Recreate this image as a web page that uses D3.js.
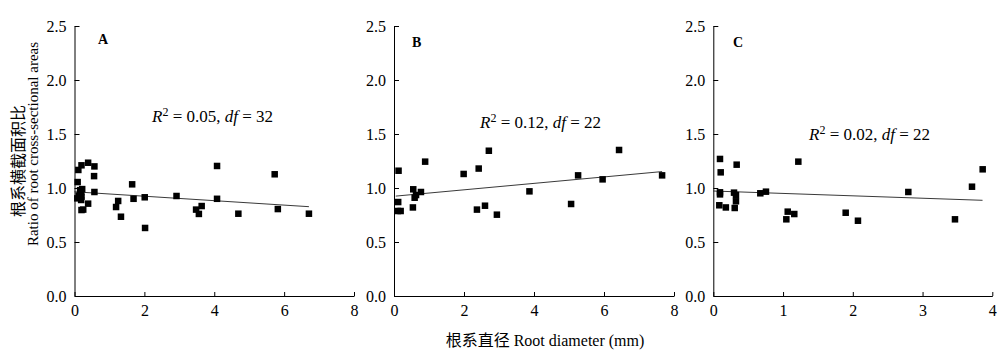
<!DOCTYPE html>
<html>
<head>
<meta charset="utf-8">
<script src="https://cdn.jsdelivr.net/npm/d3@7"></script>
<style>
  body { margin: 0; background: #fff; }
  text { font-family: "Liberation Serif", "Noto Sans CJK SC", serif; fill: #000; }
</style>
</head>
<body>
<div id="chart"></div>
<script>
// data: [root diameter (mm), ratio]
var pointsA = [
  [0.11,1.167],[0.20,1.21],[0.39,1.234],[0.57,1.20],[0.56,1.11],[0.09,1.055],
  [0.16,0.98],[0.19,0.96],[0.57,0.963],[0.08,0.904],[0.20,0.92],[0.19,0.889],
  [0.12,0.93],[0.22,0.99],
  [0.39,0.855],[0.20,0.796],[0.25,0.80],[1.65,1.034],[1.69,0.90],[1.25,0.88],
  [1.19,0.824],[1.33,0.734],[2.01,0.914],[2.02,0.63],[2.92,0.926],[4.08,1.204],
  [4.08,0.90],[3.48,0.80],[3.56,0.76],[3.64,0.833],[4.69,0.762],[5.73,1.127],
  [5.82,0.805],[6.71,0.762]
];
var pointsB = [
  [0.13,1.16],[0.12,0.87],[0.11,0.787],[0.19,0.787],[0.55,0.988],[0.63,0.935],
  [0.59,0.91],[0.77,0.963],[0.54,0.82],[0.89,1.244],[1.99,1.13],[2.42,1.18],
  [2.71,1.345],[2.37,0.80],[2.60,0.836],[2.94,0.753],[3.87,0.969],[5.06,0.852],
  [5.26,1.117],[5.96,1.08],[6.43,1.352],[7.66,1.117]
];
var pointsC = [
  [0.096,1.269],[0.106,1.145],[0.335,1.216],[0.096,0.96],[0.096,0.941],[0.086,0.84],
  [0.18,0.82],[0.297,0.957],[0.325,0.935],[0.325,0.877],[0.307,0.815],[0.674,0.951],
  [0.755,0.966],[1.219,1.244],[1.067,0.781],[1.047,0.71],[1.161,0.759],[1.898,0.771],
  [2.074,0.697],[2.796,0.963],[3.465,0.71],[3.709,1.012],[3.862,1.173]
];
// fitted lines (end points)
var fitA = [[0, 0.965], [6.71, 0.827]];
var fitB = [[0.05, 0.925], [7.66, 1.152]];
var fitC = [[0, 0.972], [3.86, 0.886]];

var yTicks = [0, 0.5, 1.0, 1.5, 2.0, 2.5];
var xTicksAB = [0, 2, 4, 6, 8];
var xTicksC = [0, 1, 2, 3, 4];
var panelLabels = ["A", "B", "C"];
var statLabels = [["0.05", "32"], ["0.12", "22"], ["0.02", "22"]];

var width = 1000, height = 351;
var svg = d3.select("#chart").append("svg")
  .attr("width", width)
  .attr("height", height);

var plotTop = 26, plotBottom = 296;

var panels = [
  {pts: pointsA, fit: fitA, xmax: 8, ticks: xTicksAB, left: 74.5, right: 354, lab: [98, 44], stat: [152, 122]},
  {pts: pointsB, fit: fitB, xmax: 8, ticks: xTicksAB, left: 394, right: 674, lab: [412, 47], stat: [480, 128]},
  {pts: pointsC, fit: fitC, xmax: 4, ticks: xTicksC, left: 713.3, right: 992.3, lab: [733, 47], stat: [809, 140]}
];

panels.forEach(function(p, i) {
  var x = d3.scaleLinear().domain([0, p.xmax]).range([p.left, p.right]);
  var y = d3.scaleLinear().domain([0, 2.5]).range([plotBottom, plotTop]);

  var g = svg.append("g");

  // x axis
  var xa = g.append("g")
    .attr("transform", "translate(0," + plotBottom + ")")
    .call(d3.axisBottom(x).tickValues(p.ticks).tickSizeInner(-4).tickSizeOuter(0)
      .tickPadding(9).tickFormat(d3.format("d")));
  xa.selectAll("text").style("font-size", "16px");

  // y axis
  var ya = g.append("g")
    .attr("transform", "translate(" + p.left + ",0)")
    .call(d3.axisLeft(y).tickValues(yTicks).tickSizeInner(-5).tickSizeOuter(0)
      .tickPadding(8).tickFormat(d3.format(".1f")));
  ya.selectAll("text").style("font-size", "16px");

  g.selectAll(".domain").attr("stroke", "#000").attr("stroke-width", 1);
  g.selectAll(".tick line").attr("stroke", "#000");

  // fit line
  g.append("line")
    .attr("x1", x(p.fit[0][0])).attr("y1", y(p.fit[0][1]))
    .attr("x2", x(p.fit[1][0])).attr("y2", y(p.fit[1][1]))
    .attr("stroke", "#222").attr("stroke-width", 0.9);

  // points
  var s = 6.5;
  g.append("g").selectAll("rect")
    .data(p.pts)
    .enter()
    .append("rect")
      .attr("x", function(d) { return x(d[0]) - s / 2; })
      .attr("y", function(d) { return y(d[1]) - s / 2; })
      .attr("width", s)
      .attr("height", s)
      .attr("fill", "#000");

  // panel letter
  g.append("text")
    .attr("x", p.lab[0]).attr("y", p.lab[1])
    .style("font-size", "14px").style("font-weight", "bold")
    .text(panelLabels[i]);

  // stats
  var t = g.append("text")
    .attr("x", p.stat[0]).attr("y", p.stat[1])
    .style("font-size", "17px");
  t.append("tspan").style("font-style", "italic").text("R");
  t.append("tspan").attr("dy", -6).style("font-size", "12px").text("2");
  t.append("tspan").attr("dy", 6).text(" = " + statLabels[i][0] + ", ");
  t.append("tspan").style("font-style", "italic").text("df");
  t.append("tspan").text(" = " + statLabels[i][1]);
});

// y axis title
svg.append("text")
  .attr("transform", "translate(24,161) rotate(-90)")
  .attr("text-anchor", "middle")
  .style("font-size", "16px")
  .text("根系横截面积比");
svg.append("text")
  .attr("transform", "translate(38,144) rotate(-90)")
  .attr("text-anchor", "middle")
  .style("font-size", "15px")
  .text("Ratio of root cross-sectional areas");

// x axis title
svg.append("text")
  .attr("x", 545).attr("y", 346)
  .attr("text-anchor", "middle")
  .style("font-size", "16px")
  .text("根系直径  Root diameter (mm)");
</script>
</body>
</html>
